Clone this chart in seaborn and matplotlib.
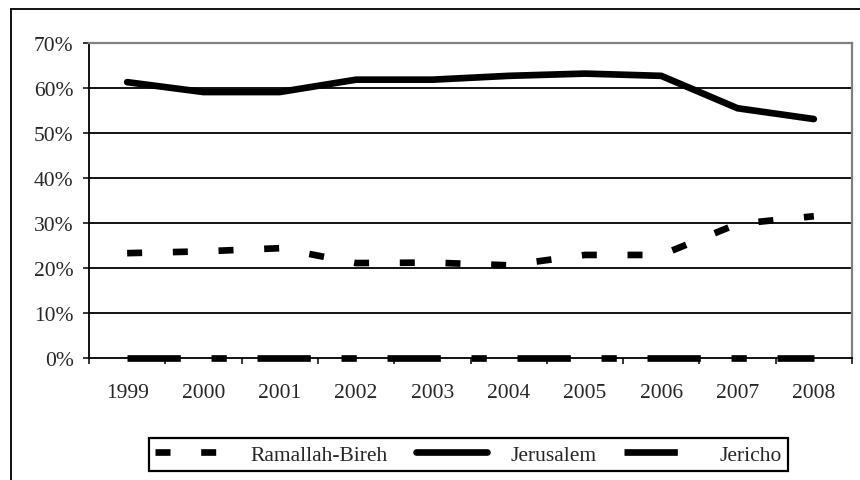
import matplotlib
matplotlib.use("Agg")
import matplotlib.pyplot as plt
import seaborn as sns
import pandas as pd
import numpy as np
from matplotlib.lines import Line2D
from matplotlib.ticker import FixedLocator, PercentFormatter

years = ['1999', '2000', '2001', '2002', '2003', '2004', '2005', '2006', '2007', '2008']
ramallah = [23.3, 23.7, 24.4, 21.1, 21.2, 20.6, 22.9, 22.9, 29.8, 31.5]
jerusalem = [61.3, 59.1, 59.1, 61.85, 61.85, 62.7, 63.2, 62.7, 55.5, 53.1]
jericho = [0, 0, 0, 0, 0, 0, 0, 0, 0, 0]
series_names = ['Ramallah-Bireh', 'Jerusalem', 'Jericho']

sns.set_theme(style="white")
plt.rcParams['font.family'] = ['Liberation Serif', 'DejaVu Serif']
plt.rcParams['lines.scale_dashes'] = False

W, H = 860, 481
FS = 15.5
fig = plt.figure(figsize=(W / 100, H / 100), dpi=100)
ax = fig.add_axes([89 / W, 1 - 359 / H, (852 - 89) / W, (359 - 44) / H])

pos = np.arange(len(years))
df = pd.DataFrame({'pos': pos, 'Ramallah-Bireh': ramallah,
                   'Jerusalem': jerusalem, 'Jericho': jericho})

LW = 4.8
sns.lineplot(data=df, x='pos', y='Ramallah-Bireh', ax=ax, color='black',
             linewidth=LW, linestyle=(0, (10.8, 22.1)), dash_capstyle='butt',
             label='Ramallah-Bireh', legend=False)
sns.lineplot(data=df, x='pos', y='Jerusalem', ax=ax, color='black',
             linewidth=LW, solid_capstyle='round', solid_joinstyle='round',
             label='Jerusalem', legend=False)
sns.lineplot(data=df, x='pos', y='Jericho', ax=ax, color='black',
             linewidth=LW, linestyle=(0, (38.4, 22.1, 11.0, 22.1)),
             dash_capstyle='butt', label='Jericho', legend=False, zorder=5,
             clip_on=False)

ax.set_xlim(-0.5, len(years) - 0.5)
ax.set_ylim(0, 70)
ax.set_xlabel('')
ax.set_ylabel('')

# y axis
ax.set_yticks(np.arange(0, 71, 10))
ax.yaxis.set_major_formatter(PercentFormatter(decimals=0))
ax.tick_params(axis='y', which='major', direction='out', length=4.5, width=1.1,
               color='black', pad=6.5, labelsize=FS, left=True)
for yv in range(10, 70, 10):
    ax.axhline(yv, color='black', linewidth=1.3, zorder=1)

# x axis
ax.set_xticks(pos)
ax.set_xticklabels(years)
ax.tick_params(axis='x', which='major', length=0, pad=18, labelsize=FS)
ax.xaxis.set_minor_locator(FixedLocator(np.arange(-0.5, len(years), 1.0)))
ax.tick_params(axis='x', which='minor', direction='out', length=4, width=1.1,
               color='black', bottom=True)

for s in ['left', 'bottom']:
    ax.spines[s].set_color('black')
    ax.spines[s].set_linewidth(1.3)
for s in ['top', 'right']:
    ax.spines[s].set_color('#808080')
    ax.spines[s].set_linewidth(1.6)
ax.grid(False)

# outer chart border (cropped chart area)
fig.add_artist(Line2D([11 / W, 11 / W], [1 - 10 / H, 0], transform=fig.transFigure,
                      color='black', linewidth=1.3))
fig.add_artist(Line2D([11 / W, 1], [1 - 10 / H, 1 - 10 / H], transform=fig.transFigure,
                      color='black', linewidth=1.3))

handles = [
    Line2D([], [], color='black', linewidth=LW, linestyle=(0, (10.8, 22.1)),
           dash_capstyle='butt'),
    Line2D([], [], color='black', linewidth=LW, solid_capstyle='round'),
    Line2D([], [], color='black', linewidth=LW, linestyle=(0, (38.4, 22.1, 11.0, 22.1)),
           dash_capstyle='butt'),
]
leg = fig.legend(handles, series_names, loc='lower left',
                 bbox_to_anchor=(149 / W, 1 - 472 / H, (788 - 149) / W, 32 / H),
                 mode='expand', ncol=3,
                 fontsize=FS, frameon=True, fancybox=False, framealpha=1,
                 edgecolor='black', handlelength=3.3, handletextpad=1.1,
                 columnspacing=1.6, borderpad=0.3, borderaxespad=0)
leg.get_frame().set_linewidth(1.6)

fig.savefig('out.png', dpi=100, facecolor='white')
